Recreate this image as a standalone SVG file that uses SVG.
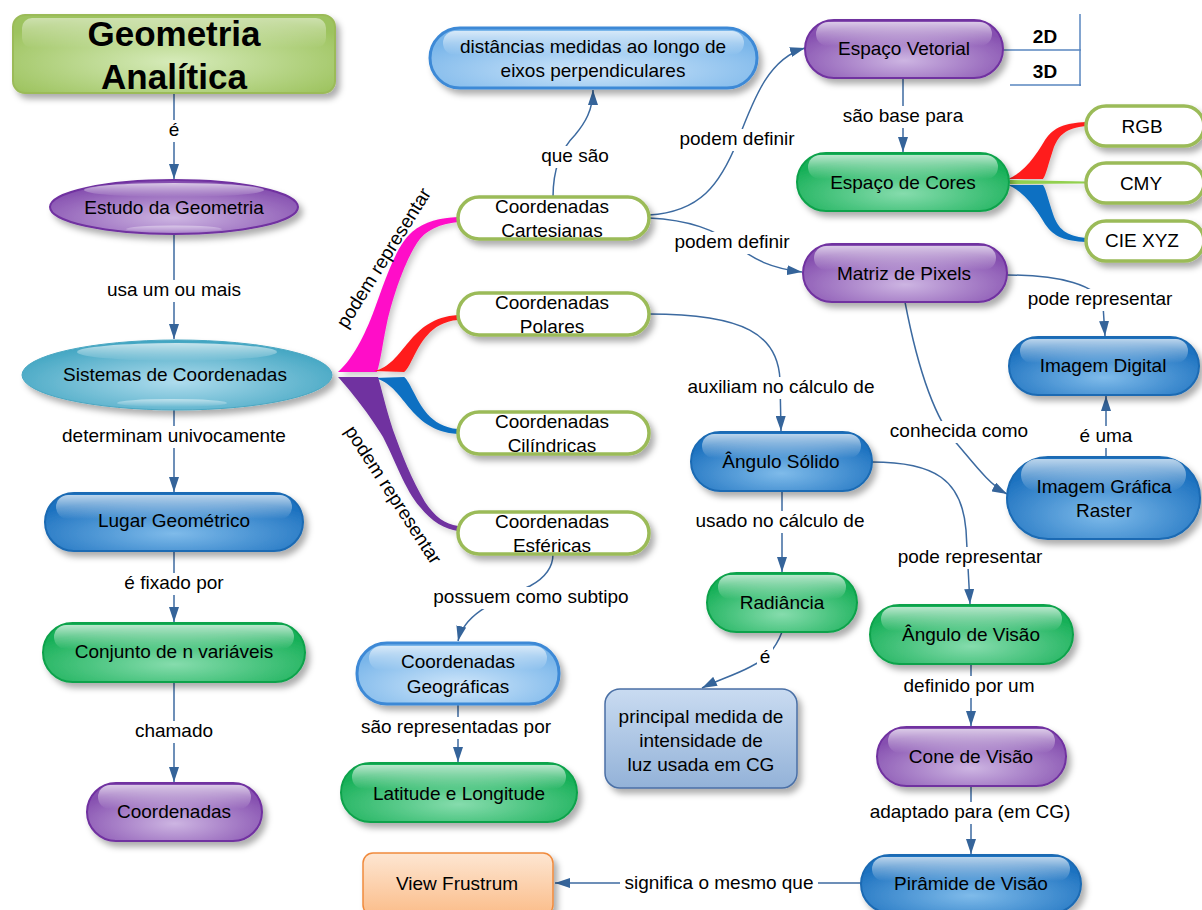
<svg xmlns="http://www.w3.org/2000/svg" width="1202" height="910" viewBox="0 0 1202 910">
  <style>
    text { font-family: "Liberation Sans", Arial, sans-serif; font-size: 19px; fill: #000; text-anchor: middle; }
    .title { font-size: 35px; font-weight: bold; }
    .bold { font-weight: bold; }
    .conn { fill: none; stroke: #3c6aa0; stroke-width: 1.5; marker-end: url(#ah); }
    .tbl { fill: none; stroke: #5a86c0; stroke-width: 1.5; }
    .lbg { fill: #fff; }
    .hl { fill: url(#gHl); }
    .blue { fill: url(#gBlue); stroke: #1a6ab3; stroke-width: 2; filter: url(#sh); }
    .green { fill: url(#gGreen); stroke: #0da24b; stroke-width: 2; filter: url(#sh); }
    .purple { fill: url(#gPurple); stroke: #7030a0; stroke-width: 2; filter: url(#sh); }
    .lblue { fill: url(#gLBlue); stroke: #3d89d6; stroke-width: 3; filter: url(#sh); }
    .teal { fill: url(#gTeal); stroke: #4aa7c2; stroke-width: 1; filter: url(#sh); }
    .olive { fill: url(#gOlive); stroke: #9bbb59; stroke-width: 2; filter: url(#sh); }
    .white { fill: #fff; stroke: #9bbb59; stroke-width: 3.5; filter: url(#sh); }
    .steel { fill: url(#gSteel); stroke: #4a6fa5; stroke-width: 1.5; filter: url(#sh); }
    .orange { fill: url(#gOrange); stroke: #f08a3c; stroke-width: 1.5; filter: url(#sh); }
    .branch { filter: url(#shs); }
  </style>
  <defs>
    <filter id="sh" x="-10%" y="-20%" width="130%" height="170%">
      <feDropShadow dx="4" dy="5" stdDeviation="3" flood-color="#000" flood-opacity="0.32"/>
    </filter>
    <filter id="shs" x="-20%" y="-20%" width="150%" height="150%">
      <feDropShadow dx="3" dy="3" stdDeviation="3" flood-color="#000" flood-opacity="0.22"/>
    </filter>
    <marker id="ah" viewBox="0 0 15 10" refX="15" refY="5" markerWidth="15" markerHeight="10" markerUnits="userSpaceOnUse" orient="auto">
      <path d="M0,0 L15,5 L0,10 z" fill="#35649a"/>
    </marker>
    <linearGradient id="gHl" x1="0" y1="0" x2="0" y2="1">
      <stop offset="0" stop-color="#fff" stop-opacity="0.7"/>
      <stop offset="1" stop-color="#fff" stop-opacity="0"/>
    </linearGradient>
    <radialGradient id="gBlue" cx="50%" cy="70%" r="62%">
      <stop offset="0" stop-color="#7fbbea"/>
      <stop offset="1" stop-color="#1d72c0"/>
    </radialGradient>
    <radialGradient id="gGreen" cx="50%" cy="70%" r="62%">
      <stop offset="0" stop-color="#86dcad"/>
      <stop offset="1" stop-color="#17b058"/>
    </radialGradient>
    <radialGradient id="gPurple" cx="50%" cy="70%" r="62%">
      <stop offset="0" stop-color="#cdb5e2"/>
      <stop offset="1" stop-color="#8650b0"/>
    </radialGradient>
    <radialGradient id="gLBlue" cx="50%" cy="70%" r="62%">
      <stop offset="0" stop-color="#cfe6fa"/>
      <stop offset="1" stop-color="#7ab6ea"/>
    </radialGradient>
    <radialGradient id="gTeal" cx="50%" cy="60%" r="60%">
      <stop offset="0" stop-color="#afdced"/>
      <stop offset="1" stop-color="#3fa4c1"/>
    </radialGradient>
    <radialGradient id="gOlive" cx="50%" cy="60%" r="62%">
      <stop offset="0" stop-color="#d6ebba"/>
      <stop offset="1" stop-color="#9dc35e"/>
    </radialGradient>
    <linearGradient id="gSteel" x1="0" y1="0" x2="0" y2="1">
      <stop offset="0" stop-color="#c9dbf1"/>
      <stop offset="1" stop-color="#93b2d8"/>
    </linearGradient>
    <linearGradient id="gOrange" x1="0" y1="0" x2="0" y2="1">
      <stop offset="0" stop-color="#fde6d2"/>
      <stop offset="1" stop-color="#fbbd8a"/>
    </linearGradient>
    <!-- tapered ribbon shapes -->
    <path id="ribSmall" d="M374,371 C405,365 408,318 458,315 L458,320 C430,322 420,345 413,358 C409,366 406,371 404,372 Z"/>
    <path id="ribColor" d="M1008,179 C1025,172 1036,155 1045,140 C1054,127 1065,123 1086,122 L1086,126 C1066,128 1058,135 1053,150 C1048,165 1046,175 1043,179 Z"/>
  </defs>

  <rect width="1202" height="910" fill="#fff"/>

  <!-- ribbons from Sistemas de Coordenadas and Espaço de Cores -->
  <g id="ribbons" class="branch">
    <path fill="#ff0fc8" d="M338,372 C355,357 367,330 376,305 C387,275 397,245 412,232 C425,221 440,218 458,217 L458,222 C440,224 425,230 417,243 C405,262 395,290 388,318 C383,340 381,360 377,372 Z"/>
    <use href="#ribSmall" fill="#ff1f1f"/>
    <use href="#ribSmall" fill="#0a6fc2" transform="matrix(1,0,0,-1,0,749)"/>
    <path fill="#7030a0" d="M338,377 C350,390 370,415 383,437 C395,460 405,490 420,507 C432,522 445,529 458,531 L458,526 C445,524 435,517 425,502 C412,480 402,455 393,430 C385,405 382,390 378,377 Z"/>
    <path d="M1010,180 L1086,181.5 L1086,183.5 L1010,184 Z" fill="#92d050"/>
    <use href="#ribColor" fill="#ff1f1f"/>
    <use href="#ribColor" fill="#0a6fc2" transform="matrix(1,0,0,-1,0,364)"/>
  </g>

  <!-- connectors -->
  <g id="connectors">
    <path class="conn" d="M174,93 L174,179"/>
    <path class="conn" d="M174,234 L174,339"/>
    <path class="conn" d="M174,410 L174,492"/>
    <path class="conn" d="M174,551 L174,622"/>
    <path class="conn" d="M174,682 L174,782"/>
    <path class="conn" d="M553,197 C553,170 560,150 575,135 C585,123 593,110 593,90"/>
    <path class="conn" d="M649,215 C700,212 720,185 738,140 C755,95 770,58 805,48"/>
    <path class="conn" d="M649,218 C690,220 715,230 735,245 C755,260 770,268 802,272"/>
    <path class="conn" d="M903,79 L903,152"/>
    <path class="conn" d="M649,314 C745,314 778,335 780,380 L781,431"/>
    <path class="conn" d="M1007,275 C1060,275 1098,285 1103,305 L1105,336"/>
    <path class="conn" d="M905,302 C918,370 935,420 958,445 C975,465 990,485 1007,494"/>
    <path class="conn" d="M1106,457 L1106,396"/>
    <path class="conn" d="M872,462 C935,462 962,480 966,530 L970,604"/>
    <path class="conn" d="M782,491 L782,572"/>
    <path class="conn" d="M782,632 C775,650 765,660 750,667 C735,675 718,680 702,688"/>
    <path class="conn" d="M553,554 C553,568 545,578 530,586 C505,598 465,610 458,641"/>
    <path class="conn" d="M458,704 L458,762"/>
    <path class="conn" d="M971,664 L971,726"/>
    <path class="conn" d="M971,786 L971,854"/>
    <path class="conn" d="M861,883 L555,883"/>
    <!-- 2D / 3D table -->
    <path class="tbl" d="M1003,50 L1081,50 M1080,14 L1080,86 M1010,85 L1081,85"/>
  </g>

  <!-- connector labels -->
  <g id="labels">
    <rect class="lbg" x="166" y="120" width="16" height="22"/><text x="174" y="136">é</text>
    <rect class="lbg" x="103" y="280" width="142" height="22"/><text x="174" y="296">usa um ou mais</text>
    <rect class="lbg" x="59" y="426" width="230" height="22"/><text x="174" y="442">determinam univocamente</text>
    <rect class="lbg" x="122" y="573" width="104" height="22"/><text x="174" y="589">é fixado por</text>
    <rect class="lbg" x="133" y="721" width="82" height="22"/><text x="174" y="737">chamado</text>
    <rect class="lbg" x="539" y="146" width="72" height="22"/><text x="575" y="162">que são</text>
    <rect class="lbg" x="677" y="129" width="120" height="22"/><text x="737" y="145">podem definir</text>
    <rect class="lbg" x="672" y="232" width="120" height="22"/><text x="732" y="248">podem definir</text>
    <rect class="lbg" x="841" y="106" width="125" height="22"/><text x="903" y="122">são base para</text>
    <rect class="lbg" x="682" y="377" width="198" height="22"/><text x="781" y="393">auxiliam no cálculo de</text>
    <rect class="lbg" x="1026" y="289" width="150" height="22"/><text x="1100" y="305">pode representar</text>
    <rect class="lbg" x="887" y="421" width="144" height="22"/><text x="959" y="437">conhecida como</text>
    <rect class="lbg" x="1078" y="426" width="56" height="22"/><text x="1106" y="442">é uma</text>
    <rect class="lbg" x="692" y="511" width="178" height="22"/><text x="780" y="527">usado no cálculo de</text>
    <rect class="lbg" x="895" y="547" width="150" height="22"/><text x="970" y="563">pode representar</text>
    <rect class="lbg" x="757" y="647" width="16" height="22"/><text x="765" y="663">é</text>
    <rect class="lbg" x="902" y="676" width="134" height="22"/><text x="969" y="692">definido por um</text>
    <rect class="lbg" x="867" y="802" width="206" height="22"/><text x="970" y="818">adaptado para (em CG)</text>
    <rect class="lbg" x="620" y="873" width="198" height="22"/><text x="719" y="889">significa o mesmo que</text>
    <rect class="lbg" x="428" y="587" width="206" height="22"/><text x="531" y="603">possuem como subtipo</text>
    <rect class="lbg" x="358" y="717" width="198" height="22"/><text x="456" y="733">são representadas por</text>
    <text x="384" y="264" transform="rotate(-58 384 258)">podem representar</text>
    <text x="393" y="501" transform="rotate(57 393 495)">podem representar</text>
    <text class="bold" x="1045" y="43">2D</text>
    <text class="bold" x="1045" y="78">3D</text>
  </g>

  <!-- nodes -->
  <g id="n-geometria">
    <rect class="olive" x="13" y="15" width="322" height="78" rx="12"/>
    <rect class="hl" x="22" y="18" width="304" height="30" rx="10" opacity="0.7"/>
    <text class="title" x="174" y="46">Geometria</text>
    <text class="title" x="174" y="89">Analítica</text>
  </g>
  <g id="n-estudo">
    <ellipse class="purple" cx="174" cy="207" rx="124" ry="27"/>
    <ellipse class="hl" cx="174" cy="190" rx="90" ry="7"/>
    <ellipse class="hl" cx="174" cy="229" rx="48" ry="3.5" opacity="0.6"/>
    <text x="174" y="214">Estudo da Geometria</text>
  </g>
  <g id="n-sistemas">
    <ellipse class="teal" cx="177" cy="375" rx="155" ry="35"/>
    <ellipse class="hl" cx="177" cy="352" rx="100" ry="9"/>
    <ellipse class="hl" cx="172" cy="403" rx="55" ry="4" opacity="0.7"/>
    <text x="175" y="381">Sistemas de Coordenadas</text>
  </g>
  <g id="n-lugar">
    <rect class="blue" x="45" y="493" width="258" height="58" rx="29"/>
    <rect class="hl" x="56" y="495" width="236" height="24" rx="12"/>
    <text x="174" y="527">Lugar Geométrico</text>
  </g>
  <g id="n-conjunto">
    <rect class="green" x="43" y="623" width="262" height="59" rx="29.5"/>
    <rect class="hl" x="54" y="625" width="240" height="24" rx="12"/>
    <text x="174" y="658">Conjunto de n variáveis</text>
  </g>
  <g id="n-coordenadas">
    <rect class="purple" x="87" y="783" width="175" height="58" rx="29"/>
    <rect class="hl" x="98" y="785" width="153" height="24" rx="12"/>
    <text x="174" y="818">Coordenadas</text>
  </g>
  <g id="n-cartesianas">
    <rect class="white" x="458" y="197" width="191" height="42" rx="21"/>
    <text x="552" y="213">Coordenadas</text>
    <text x="552" y="237">Cartesianas</text>
  </g>
  <g id="n-polares">
    <rect class="white" x="458" y="293" width="191" height="42" rx="21"/>
    <text x="552" y="309">Coordenadas</text>
    <text x="552" y="333">Polares</text>
  </g>
  <g id="n-cilindricas">
    <rect class="white" x="458" y="412" width="191" height="42" rx="21"/>
    <text x="552" y="428">Coordenadas</text>
    <text x="552" y="452">Cilíndricas</text>
  </g>
  <g id="n-esfericas">
    <rect class="white" x="458" y="512" width="191" height="42" rx="21"/>
    <text x="552" y="528">Coordenadas</text>
    <text x="552" y="552">Esféricas</text>
  </g>
  <g id="n-distancias">
    <rect class="lblue" x="430" y="28" width="327" height="60" rx="30"/>
    <rect class="hl" x="443" y="31" width="301" height="24" rx="12"/>
    <text x="593" y="53">distâncias medidas ao longo de</text>
    <text x="593" y="77">eixos perpendiculares</text>
  </g>
  <g id="n-vetorial">
    <rect class="purple" x="805" y="20" width="198" height="58" rx="29"/>
    <rect class="hl" x="816" y="22" width="176" height="24" rx="12"/>
    <text x="904" y="55">Espaço Vetorial</text>
  </g>
  <g id="n-cores">
    <rect class="green" x="797" y="153" width="212" height="58" rx="29"/>
    <rect class="hl" x="808" y="155" width="190" height="24" rx="12"/>
    <text x="903" y="189">Espaço de Cores</text>
  </g>
  <g id="n-rgb">
    <rect class="white" x="1086" y="106" width="118" height="40" rx="20"/>
    <text x="1142" y="133">RGB</text>
  </g>
  <g id="n-cmy">
    <rect class="white" x="1086" y="163" width="118" height="40" rx="20"/>
    <text x="1141" y="190">CMY</text>
  </g>
  <g id="n-ciexyz">
    <rect class="white" x="1086" y="221" width="118" height="40" rx="20"/>
    <text x="1142" y="247">CIE XYZ</text>
  </g>
  <g id="n-matriz">
    <rect class="purple" x="803" y="244" width="204" height="58" rx="29"/>
    <rect class="hl" x="814" y="246" width="182" height="24" rx="12"/>
    <text x="904" y="280">Matriz de Pixels</text>
  </g>
  <g id="n-digital">
    <rect class="blue" x="1009" y="337" width="190" height="58" rx="29"/>
    <rect class="hl" x="1020" y="339" width="168" height="24" rx="12"/>
    <text x="1103" y="372">Imagem Digital</text>
  </g>
  <g id="n-raster">
    <rect class="blue" x="1007" y="457" width="193" height="82" rx="41"/>
    <rect class="hl" x="1021" y="459" width="165" height="32" rx="16"/>
    <text x="1104" y="493">Imagem Gráfica</text>
    <text x="1104" y="517">Raster</text>
  </g>
  <g id="n-solido">
    <rect class="blue" x="691" y="432" width="181" height="59" rx="29.5"/>
    <rect class="hl" x="702" y="434" width="159" height="24" rx="12"/>
    <text x="781" y="468">Ângulo Sólido</text>
  </g>
  <g id="n-radiancia">
    <rect class="green" x="707" y="573" width="150" height="59" rx="29.5"/>
    <rect class="hl" x="718" y="575" width="128" height="24" rx="12"/>
    <text x="782" y="609">Radiância</text>
  </g>
  <g id="n-principal">
    <rect class="steel" x="605" y="689" width="192" height="99" rx="15"/>
    <text x="701" y="723">principal medida de</text>
    <text x="701" y="747">intensidade de</text>
    <text x="701" y="771">luz usada em CG</text>
  </g>
  <g id="n-visao">
    <rect class="green" x="870" y="605" width="203" height="59" rx="29.5"/>
    <rect class="hl" x="881" y="607" width="181" height="24" rx="12"/>
    <text x="971" y="641">Ângulo de Visão</text>
  </g>
  <g id="n-cone">
    <rect class="purple" x="877" y="727" width="189" height="59" rx="29.5"/>
    <rect class="hl" x="888" y="729" width="167" height="24" rx="12"/>
    <text x="971" y="763">Cone de Visão</text>
  </g>
  <g id="n-piramide">
    <rect class="blue" x="861" y="855" width="220" height="58" rx="29"/>
    <rect class="hl" x="872" y="857" width="198" height="24" rx="12"/>
    <text x="971" y="890">Pirâmide de Visão</text>
  </g>
  <g id="n-frustrum">
    <rect class="orange" x="363" y="853" width="190" height="62" rx="10"/>
    <text x="457" y="890">View Frustrum</text>
  </g>
  <g id="n-geograficas">
    <rect class="lblue" x="357" y="643" width="202" height="61" rx="30"/>
    <rect class="hl" x="369" y="646" width="178" height="24" rx="12"/>
    <text x="458" y="668">Coordenadas</text>
    <text x="458" y="693">Geográficas</text>
  </g>
  <g id="n-latitude">
    <rect class="green" x="341" y="763" width="236" height="59" rx="29.5"/>
    <rect class="hl" x="352" y="765" width="214" height="24" rx="12"/>
    <text x="459" y="800">Latitude e Longitude</text>
  </g>
</svg>
